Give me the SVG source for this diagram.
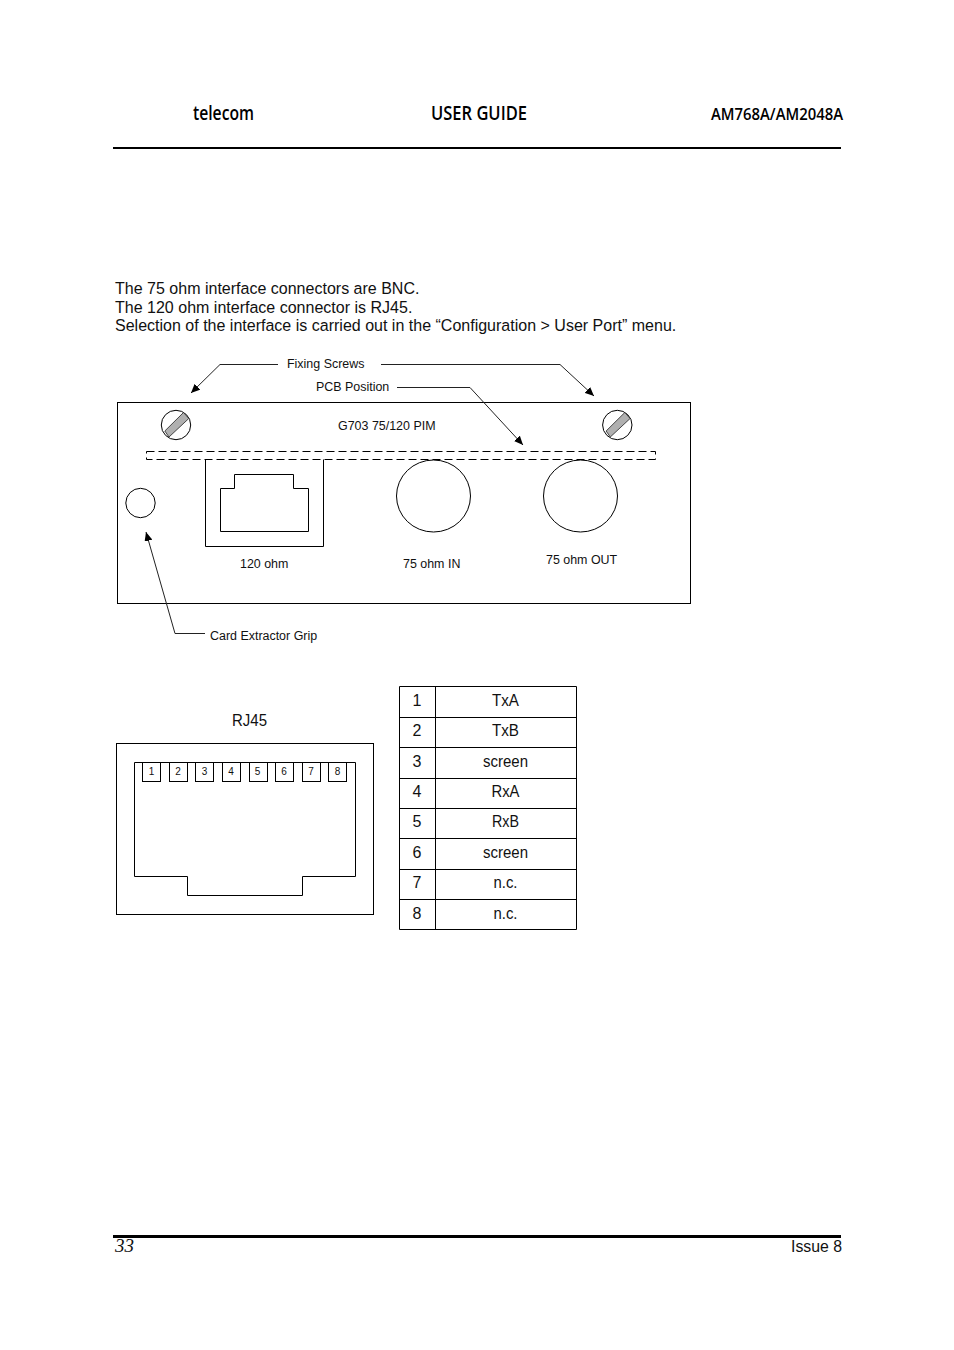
<svg xmlns="http://www.w3.org/2000/svg" width="954" height="1350" viewBox="0 0 954 1350">
<style>
text{font-family:"Liberation Sans",Arial,sans-serif;fill:#111}
.hd{font-family:"Open Sans","Noto Sans",sans-serif;font-weight:600;fill:#000}
.b{font-size:16.03px}
.s{font-size:12.45px}
.p{font-size:10px;text-anchor:middle}
.t{font-size:16px;text-anchor:middle}
.ln{fill:none;stroke:#000;stroke-width:1}
.ld{fill:none;stroke:#222;stroke-width:1;marker-end:url(#ah)}
.sl{fill:#b0b0b0;stroke:#222;stroke-width:.8}
</style>
<defs>
<marker id="ah" markerUnits="userSpaceOnUse" markerWidth="10" markerHeight="8" refX="9" refY="4" orient="auto"><path d="M0 0L9 4L0 8Z" fill="#000"/></marker>
</defs>
<rect width="954" height="1350" fill="#fff"/>
<g id="header">
<text class="hd" x="193" y="120" font-size="19" textLength="61" lengthAdjust="spacingAndGlyphs">telecom</text>
<text class="hd" x="431" y="120" font-size="19" textLength="96" lengthAdjust="spacingAndGlyphs">USER GUIDE</text>
<text class="hd" x="711" y="120" font-size="16" textLength="132" lengthAdjust="spacingAndGlyphs">AM768A/AM2048A</text>
<rect x="113" y="147" width="728" height="2" fill="#000"/>
</g>
<g id="intro">
<text class="b" x="115" y="294">The 75 ohm interface connectors are BNC.</text>
<text class="b" x="115" y="313">The 120 ohm interface connector is RJ45.</text>
<text class="b" x="115" y="331">Selection of the interface is carried out in the “Configuration &gt; User Port” menu.</text>
</g>
<g id="panel"><rect class="ln" x="117.5" y="402.5" width="573" height="201"/>
<text class="s" x="338" y="430">G703 75/120 PIM</text></g>
<g id="screw-left"><circle class="ln" cx="176" cy="425" r="14.7"/><path class="sl" d="M164.8 431L183.5 412.5L188.8 418.5L169 437Z"/></g>
<g id="screw-right"><circle class="ln" cx="617.3" cy="425" r="14.7"/><path class="sl" d="M606.1 431L624.8 412.5L630.1 418.5L610.3 437Z"/></g>
<g id="pcb"><rect class="ln" x="146.5" y="451.5" width="509" height="8" stroke-dasharray="8 4"/></g>
<g id="port-120"><path class="ln" d="M205.5 459.5V546.5H323.5V459.5"/><path class="ln" d="M220.5 488.5H234.5V474.5H293.5V488.5H308.5V531.5H220.5Z"/>
<text class="s" x="240" y="568">120 ohm</text></g>
<g id="grip"><circle class="ln" cx="140.5" cy="503" r="14.7"/></g>
<g id="bnc-in"><ellipse class="ln" cx="433.5" cy="496" rx="37" ry="36"/><text class="s" x="403" y="568">75 ohm IN</text></g>
<g id="bnc-out"><ellipse class="ln" cx="580.5" cy="496" rx="37" ry="36"/><text class="s" x="546" y="564">75 ohm OUT</text></g>
<g id="connectors">
<path class="ld" d="M278 364.5H220L191 393"/>
<path class="ld" d="M381 364.5H560L594 396"/>
<path class="ld" d="M397 387.5H470L523 445"/>
<path class="ld" d="M205 633.5H175L146 532"/>
</g>
<g id="labels">
<text class="s" x="287" y="368">Fixing Screws</text>
<text class="s" x="316" y="391">PCB Position</text>
<text class="s" x="210" y="640">Card Extractor Grip</text>
</g>
<g id="rj45">
<text x="232" y="726" font-size="16" textLength="35" lengthAdjust="spacingAndGlyphs">RJ45</text>
<rect class="ln" x="116.5" y="743.5" width="257" height="171"/>
<path class="ln" d="M134.5 762.5H355.5V876.5H302.5V895.5H187.5V876.5H134.5Z"/>
<g class="ln">
<rect x="142.5" y="762.5" width="18" height="19"/><rect x="169.5" y="762.5" width="18" height="19"/><rect x="195.5" y="762.5" width="18" height="19"/><rect x="222.5" y="762.5" width="18" height="19"/><rect x="249.5" y="762.5" width="18" height="19"/><rect x="275.5" y="762.5" width="18" height="19"/><rect x="302.5" y="762.5" width="18" height="19"/><rect x="328.5" y="762.5" width="18" height="19"/>
</g>
<text class="p" x="151.5" y="775">1</text><text class="p" x="178" y="775">2</text><text class="p" x="204.5" y="775">3</text><text class="p" x="231" y="775">4</text><text class="p" x="257.5" y="775">5</text><text class="p" x="284" y="775">6</text><text class="p" x="311" y="775">7</text><text class="p" x="337.5" y="775">8</text>
</g>
<g id="pin-table">
<path class="ln" d="M399.5 686.5H576.5V929.5H399.5ZM435.5 686.5V929.5M399.5 717.5H576.5M399.5 747.5H576.5M399.5 778.5H576.5M399.5 808.5H576.5M399.5 838.5H576.5M399.5 869.5H576.5M399.5 899.5H576.5"/>
<text class="t" x="417" y="706">1</text><text class="t" x="505.5" y="706" textLength="27" lengthAdjust="spacingAndGlyphs">TxA</text>
<text class="t" x="417" y="736">2</text><text class="t" x="505.5" y="736" textLength="27" lengthAdjust="spacingAndGlyphs">TxB</text>
<text class="t" x="417" y="767">3</text><text class="t" x="505.5" y="767" textLength="45" lengthAdjust="spacingAndGlyphs">screen</text>
<text class="t" x="417" y="797">4</text><text class="t" x="505.5" y="797" textLength="28" lengthAdjust="spacingAndGlyphs">RxA</text>
<text class="t" x="417" y="827">5</text><text class="t" x="505.5" y="827" textLength="27" lengthAdjust="spacingAndGlyphs">RxB</text>
<text class="t" x="417" y="858">6</text><text class="t" x="505.5" y="858" textLength="45" lengthAdjust="spacingAndGlyphs">screen</text>
<text class="t" x="417" y="888">7</text><text class="t" x="505.5" y="888" textLength="24" lengthAdjust="spacingAndGlyphs">n.c.</text>
<text class="t" x="417" y="919">8</text><text class="t" x="505.5" y="919" textLength="24" lengthAdjust="spacingAndGlyphs">n.c.</text>
</g>
<g id="footer">
<rect x="113" y="1235" width="728" height="3" fill="#000"/>
<text x="115" y="1252" font-size="19" font-style="italic" style="font-family:'Liberation Serif',serif">33</text>
<text x="791" y="1252" font-size="16" textLength="51" lengthAdjust="spacingAndGlyphs">Issue 8</text>
</g>
</svg>
